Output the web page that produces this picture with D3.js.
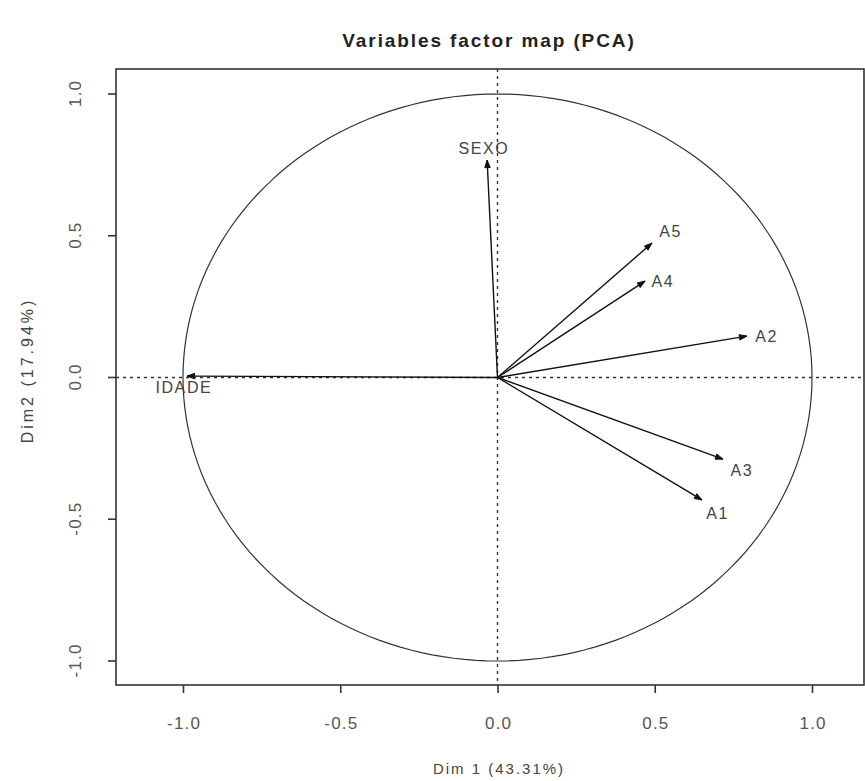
<!DOCTYPE html>
<html><head><meta charset="utf-8">
<script src="https://cdn.jsdelivr.net/npm/d3@7"></script>
<style>
html,body{margin:0;padding:0;background:#fff;}
svg text{font-family:"Liberation Sans",Arial,sans-serif;}
</style></head>
<body><svg id="c" width="865" height="781"></svg>
<script>
const variables = ["SEXO","A5","A4","A2","A3","A1","IDADE"];
const dim1 = [-0.033, 0.491, 0.469, 0.793, 0.717, 0.650, -0.987];
const dim2 = [0.767, 0.474, 0.340, 0.146, -0.288, -0.432, 0.005];
const xTicks = [-1.0,-0.5,0.0,0.5,1.0];
const yTicks = [-1.0,-0.5,0.0,0.5,1.0];
const title = "Variables factor map (PCA)";
const xTitle = "Dim 1 (43.31%)";
const yTitle = "Dim2 (17.94%)";

// label placement (style, in px)
const labelOffset = {SEXO:[-4,-12], A5:[18,-12], A4:[17,0], A2:[19,0], A3:[18,11], A1:[15,13], IDADE:[-4,11]};

const svg = d3.select("#c");
const box = {l:116, r:864, t:69, b:685};
const x = d3.scaleLinear().domain([-1,1]).range([183,812]);
const y = d3.scaleLinear().domain([-1,1]).range([661,94]);
const ink = "#333";
const fmt = d => d.toFixed(1);

svg.append("text").attr("x",488).attr("y",47).attr("text-anchor","middle")
  .attr("font-size",19).attr("font-weight","bold").attr("letter-spacing",1.9).attr("dx",1).attr("fill","#222").text(title);

// axes
const xa = svg.append("g").attr("transform",`translate(0,${box.b})`)
  .call(d3.axisBottom(x).tickValues(xTicks).tickFormat(fmt).tickSize(8).tickSizeOuter(0));
const ya = svg.append("g").attr("transform",`translate(${box.l},0)`)
  .call(d3.axisLeft(y).tickValues(yTicks).tickFormat(fmt).tickSize(8).tickSizeOuter(0));
[xa,ya].forEach(a=>{a.select(".domain").remove();a.selectAll("line").attr("stroke",ink).attr("stroke-width",1.6);
  a.selectAll("text").attr("font-size",17).attr("letter-spacing",1.2).attr("fill","#555");});
xa.selectAll("text").attr("dy",null).attr("y",44).attr("dx",0.6);
ya.selectAll("text").attr("x",null).attr("dy",null).attr("text-anchor","middle")
  .attr("transform",d=>`translate(${-41},${y(d)}) rotate(-90)`).attr("y",0).attr("dy","0.35em").attr("dx",0.6);
ya.selectAll(".tick").attr("transform","translate(0,0)");
ya.selectAll(".tick line").attr("transform",d=>`translate(0,${y(d)})`);

svg.append("text").attr("x",498).attr("y",774).attr("text-anchor","middle").attr("font-size",15)
  .attr("letter-spacing",2).attr("dx",1).attr("fill","#444").text(xTitle);
svg.append("text").attr("transform","translate(33,372) rotate(-90)").attr("text-anchor","middle").attr("font-size",16)
  .attr("letter-spacing",3).attr("dx",1.5).attr("fill","#444").text(yTitle);

// box
svg.append("rect").attr("x",box.l).attr("y",box.t).attr("width",box.r-box.l).attr("height",box.b-box.t)
  .attr("fill","none").attr("stroke",ink).attr("stroke-width",1.6);

// circle
const circ = d3.range(0,361,2).map(a=>[Math.cos(a*Math.PI/180),Math.sin(a*Math.PI/180)]);
svg.append("path").attr("d",d3.line().x(d=>x(d[0])).y(d=>y(d[1]))(circ)).attr("fill","none").attr("stroke",ink).attr("stroke-width",1.2);

// dotted zero lines
svg.append("line").attr("x1",box.l).attr("x2",box.r).attr("y1",y(0)).attr("y2",y(0)).attr("stroke",ink).attr("stroke-width",1.4).attr("stroke-dasharray","3,4");
svg.append("line").attr("y1",box.t).attr("y2",box.b).attr("x1",x(0)).attr("x2",x(0)).attr("stroke",ink).attr("stroke-width",1.4).attr("stroke-dasharray","3,4");

// arrows
const data = variables.map((v,i)=>({v, d1:dim1[i], d2:dim2[i]}));
data.forEach(d=>{
  const x0=x(0), y0=y(0), x1=x(d.d1), y1=y(d.d2);
  svg.append("line").attr("x1",x0).attr("y1",y0).attr("x2",x1).attr("y2",y1).attr("stroke","#111").attr("stroke-width",1.4);
  const ang=Math.atan2(y1-y0,x1-x0), L=8, w=0.35;
  const p=[[x1,y1],[x1-L*Math.cos(ang-w),y1-L*Math.sin(ang-w)],[x1-L*Math.cos(ang+w),y1-L*Math.sin(ang+w)]];
  svg.append("path").attr("d","M"+p.map(q=>q.join(",")).join("L")+"Z").attr("fill","#111").attr("stroke","#111").attr("stroke-width",1);
  const o=labelOffset[d.v];
  svg.append("text").attr("x",x1+o[0]).attr("y",y1+o[1]).attr("dy","0.35em").attr("dx",0.8).attr("text-anchor","middle")
    .attr("font-size",16).attr("letter-spacing",1.6).attr("fill","#444").text(d.v);
});
</script></body></html>
